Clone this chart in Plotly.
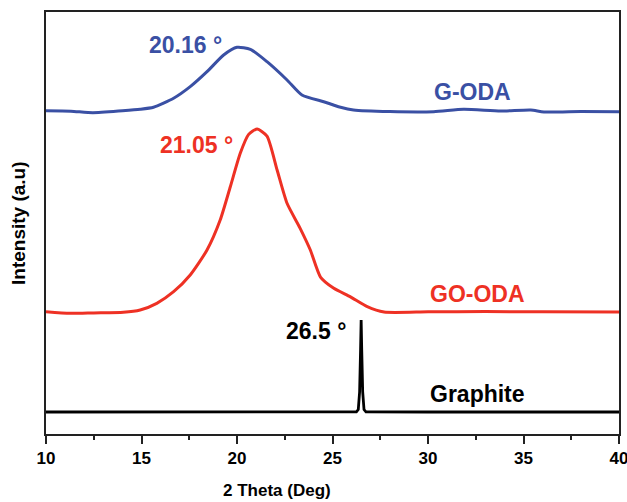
import plotly.graph_objects as go

# 2-theta positions and intensities (arbitrary units, offset stacked)
theta_goda = [10.0, 11.3, 12.45, 14.0, 14.93, 15.63, 16.68, 17.55, 18.43, 19.3, 20.0, 20.7,
              21.57, 22.62, 23.4, 24.54, 25.05, 25.42, 26.1, 28.0, 30.3, 31.87, 33.8, 35.38, 36.07, 38.0, 40.0]
int_goda = [76.6, 76.5, 76.14, 76.6, 76.94, 77.42, 79.55, 82.3, 85.85, 89.81, 91.64, 91.16,
            88.22, 83.89, 80.33, 78.74, 77.96, 77.42, 76.78, 76.4, 76.37, 76.94, 76.54, 76.78, 76.3, 76.4, 76.37]

theta_goo = [10.0, 11.26, 12.5, 14.05, 14.93, 15.8, 16.68, 17.55, 18.43, 19.12, 19.65, 20.17, 20.61,
             21.05, 21.57, 22.1, 22.62, 23.3, 23.84, 24.37, 25.05, 25.94, 26.82, 27.7, 30.0, 33.0, 36.0, 40.0]
int_goo = [28.98, 28.6, 28.7, 28.84, 29.38, 30.97, 33.72, 37.68, 43.6, 50.71, 58.6, 66.52, 71.0,
           72.27, 70.6, 62.56, 54.67, 48.8, 43.6, 37.2, 34.6, 32.5, 30.17, 28.9, 28.95, 29.0, 28.95, 28.9]

theta_gr = [10.0, 20.0, 26.25, 26.35, 26.42, 26.47, 26.5, 26.53, 26.58, 26.65, 26.75, 30.0, 40.0]
int_gr = [5.21, 5.21, 5.25, 5.8, 10.0, 20.0, 27.0, 20.0, 10.0, 5.8, 5.25, 5.21, 5.21]

labels = ["G-ODA", "GO-ODA", "Graphite"]
peak_labels = ["20.16 °", "21.05 °", "26.5 °"]
colors = ["#3A50A4", "#EE3124", "#000000"]

fig = go.Figure()
# invisible helper traces carrying the minor-tick axis and the top/right frame axes
fig.add_trace(go.Scatter(x=theta_gr, y=int_gr, xaxis="x2", yaxis="y", mode="lines", opacity=0,
                         hoverinfo="skip", showlegend=False, line=dict(width=0)))
fig.add_trace(go.Scatter(x=theta_gr, y=int_gr, xaxis="x3", yaxis="y2", mode="lines", opacity=0,
                         hoverinfo="skip", showlegend=False, line=dict(width=0)))
for x, y, name, c in [(theta_goda, int_goda, labels[0], colors[0]),
                      (theta_goo, int_goo, labels[1], colors[1]),
                      (theta_gr, int_gr, labels[2], colors[2])]:
    fig.add_trace(go.Scatter(x=x, y=y, mode="lines", name=name,
                             line=dict(color=c, width=3, shape="spline", smoothing=0.6)))
fig.data[4].line.shape = "linear"
fig.data[4].line.width = 2.8

W, H = 627, 502
L, R, T, B = 46, 8, 12, 68
pw, ph = W - L - R, H - T - B

bold = "Arial, Liberation Sans, sans-serif"
ann = [
    (17.32, 92.2, peak_labels[0], colors[0]),
    (32.31, 81.0, labels[0], colors[0]),
    (17.87, 68.5, peak_labels[1], colors[1]),
    (32.6, 33.2, labels[1], colors[1]),
    (24.16, 24.4, peak_labels[2], colors[2]),
    (32.6, 9.5, labels[2], colors[2]),
]
for x, y, t, c in ann:
    fig.add_annotation(x=x, y=y, xref="x", yref="y", text=t, showarrow=False,
                       font=dict(family=bold, size=23, color=c, weight="bold"),
                       xanchor="center", yanchor="middle")

fig.add_annotation(x=(277 - L) / pw, y=(H - B - 490) / ph, xref="paper", yref="paper",
                   text="2 Theta (Deg)", showarrow=False, xanchor="center", yanchor="middle",
                   font=dict(family=bold, size=17, color="black", weight="bold"))
fig.add_annotation(x=(18 - L) / pw, y=(H - B - 223) / ph, xref="paper", yref="paper",
                   text="Intensity (a.u)", textangle=-90, showarrow=False,
                   xanchor="center", yanchor="middle",
                   font=dict(family=bold, size=19, color="black", weight="bold"))

fig.update_layout(
    width=W, height=H, margin=dict(l=L, r=R, t=T, b=B, autoexpand=False),
    plot_bgcolor="white", paper_bgcolor="white", showlegend=False,
    xaxis=dict(range=[10, 40], tickmode="linear", tick0=10, dtick=5, ticks="outside", ticklen=8,
               tickwidth=1.5, tickcolor="#222", showline=True, linecolor="#222", linewidth=2,
               showgrid=False, zeroline=False, automargin=False,
               ticklabeloverflow="allow",
               tickfont=dict(family="Liberation Sans Narrow, Arial Narrow, Arial", size=17,
                             color="black", weight="bold")),
    xaxis2=dict(range=[10, 40], overlaying="x", side="bottom", anchor="y", tickmode="linear",
                tick0=10, dtick=2.5, ticks="outside", ticklen=5, tickwidth=1.5, tickcolor="#222",
                showticklabels=False, showline=False, showgrid=False, zeroline=False,
                automargin=False),
    xaxis3=dict(range=[10, 40], overlaying="x", side="top", anchor="y2", ticks="",
                showticklabels=False, showline=True, linecolor="#222", linewidth=2,
                showgrid=False, zeroline=False, automargin=False),
    yaxis=dict(range=[0, 100], showticklabels=False, ticks="", showline=True, linecolor="#222",
               linewidth=2, showgrid=False, zeroline=False, automargin=False),
    yaxis2=dict(range=[0, 100], overlaying="y", side="right", anchor="x3", ticks="",
                showticklabels=False, showline=True, linecolor="#222", linewidth=2,
                showgrid=False, zeroline=False, automargin=False),
)

fig.write_html("out.html", config={"displayModeBar": False},
               post_script="document.body.style.margin='0';document.body.style.overflow='hidden';")
